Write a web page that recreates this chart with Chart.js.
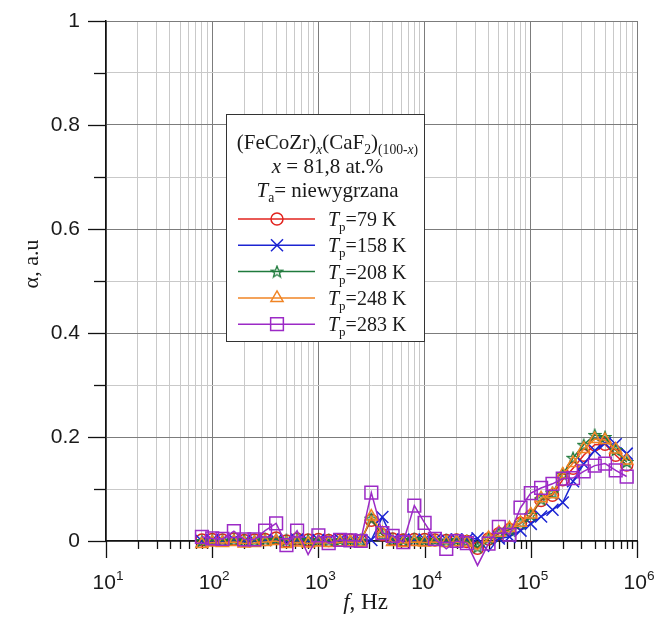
<!DOCTYPE html>
<html>
<head>
<meta charset="utf-8">
<script src="https://cdn.jsdelivr.net/npm/chart.js@4.4.1/dist/chart.umd.min.js"></script>
<style>
  body { margin: 0; background: #fff; }
  #wrap { width: 665px; height: 627px; }
</style>
</head>
<body>
<div id="wrap"><canvas id="alphaChart"></canvas></div>
<script>
// measurement frequencies, Hz
const freqs = [80, 100, 125, 160, 200, 250, 315, 400, 500, 630, 800,
  1000, 1250, 1600, 2000, 2500, 3150, 4000, 5000, 6300, 8000,
  10000, 12500, 16000, 20000, 25000, 31500, 40000, 50000, 63000, 80000,
  100000, 125000, 160000, 200000, 250000, 315000, 400000, 500000, 630000, 800000];

// alpha, a.u. for each measuring temperature Tp
const tp79 = [0.002, 0.003, 0.002, 0.004, 0.001, 0.002, 0.003, 0.006, 0.000, 0.004, 0.002,
  0.003, 0.001, 0.002, 0.002, 0.001, 0.040, 0.012, 0.004, 0.002, 0.003,
  0.003, 0.002, 0.001, 0.002, -0.001, -0.014, 0.004, 0.014, 0.022, 0.034,
  0.048, 0.078, 0.088, 0.118, 0.140, 0.165, 0.185, 0.186, 0.165, 0.146];
const tp158 = [0.000, 0.002, 0.001, 0.003, 0.000, 0.001, 0.002, 0.002, 0.000, 0.003, 0.001,
  0.002, 0.002, 0.003, 0.002, 0.002, 0.002, 0.046, 0.003, 0.003, 0.002,
  0.003, 0.002, 0.003, 0.003, 0.003, 0.005, -0.020, 0.005, 0.008, 0.020,
  0.033, 0.047, 0.060, 0.074, 0.115, 0.148, 0.174, 0.188, 0.186, 0.168];
const tp208 = [0.000, 0.002, 0.001, 0.003, 0.002, 0.001, 0.003, 0.004, 0.001, 0.003, 0.002,
  0.002, 0.001, 0.002, 0.002, 0.001, 0.043, 0.012, 0.003, 0.002, 0.004,
  0.002, 0.002, 0.001, 0.002, 0.000, -0.012, 0.005, 0.015, 0.022, 0.035,
  0.050, 0.080, 0.092, 0.128, 0.160, 0.185, 0.204, 0.200, 0.175, 0.152];
const tp248 = [-0.006, -0.003, -0.004, -0.002, -0.005, -0.004, -0.002, 0.000, -0.006, -0.003, -0.005,
  -0.003, -0.004, -0.003, -0.002, -0.003, 0.047, 0.015, -0.002, -0.004, -0.002,
  -0.003, -0.002, -0.004, -0.002, -0.003, -0.017, 0.006, 0.016, 0.025, 0.035,
  0.051, 0.082, 0.090, 0.128, 0.150, 0.177, 0.196, 0.194, 0.176, 0.155];
const tp283 = [0.008, 0.005, 0.004, 0.019, 0.003, 0.003, 0.020, 0.034, -0.008, 0.020, -0.026,
  0.011, -0.004, 0.002, 0.001, 0.000, 0.093, 0.015, 0.010, -0.002, 0.068,
  0.035, 0.004, -0.015, 0.000, -0.004, -0.047, -0.005, 0.027, 0.012, 0.064,
  0.092, 0.102, 0.110, 0.120, 0.121, 0.134, 0.145, 0.149, 0.136, 0.124];

const seriesLabels = ['=79 K', '=158 K', '=208 K', '=248 K', '=283 K'];
const yLabelValues = [0, 0.2, 0.4, 0.6, 0.8, 1];
const xDecades = [1, 2, 3, 4, 5, 6];

const colors = ['#e2231e', '#1c24d2', '#1f7a3c', '#f08424', '#9c2ac6'];

function starMarker(color, size) {
  const c = document.createElement('canvas');
  c.width = size; c.height = size;
  const g = c.getContext('2d');
  const cx = size / 2, cy = size / 2 + 0.5, ro = size / 2 - 1, ri = ro * 0.42;
  g.beginPath();
  for (let k = 0; k < 10; k++) {
    const r = k % 2 ? ri : ro;
    const a = -Math.PI / 2 + k * Math.PI / 5;
    g.lineTo(cx + r * Math.cos(a), cy + r * Math.sin(a));
  }
  g.closePath();
  g.strokeStyle = color;
  g.lineWidth = 1.3;
  g.stroke();
  return c;
}

const markers = [
  { style: 'circle', radius: 6 },
  { style: 'crossRot', radius: 8.5 },
  { style: starMarker(colors[2], 14), radius: 7 },
  { style: 'triangle', radius: 7 },
  { style: 'rect', radius: 9 }
];

const values = [tp79, tp158, tp208, tp248, tp283];

const datasets = values.map((vals, i) => ({
  label: 'Tp' + seriesLabels[i],
  data: freqs.map((f, k) => ({ x: f, y: vals[k] })),
  borderColor: colors[i],
  backgroundColor: 'transparent',
  borderWidth: 1.5,
  pointStyle: markers[i].style,
  pointRadius: markers[i].radius,
  pointBorderColor: colors[i],
  pointBackgroundColor: 'transparent',
  pointBorderWidth: 1.5,
  tension: 0,
  clip: false,
  order: values.length - i
}));

const SANS = '"Liberation Sans", Arial, sans-serif';
const SERIF = '"Liberation Serif", "Times New Roman", serif';

// text made of plain / italic / subscript / superscript runs
function runWidth(ctx, runs, size) {
  let w = 0;
  runs.forEach(r => {
    const s = (r.sub || r.sup) ? size * 0.65 : size;
    ctx.font = (r.it ? 'italic ' : '') + s + 'px ' + (r.font || SERIF);
    w += ctx.measureText(r.t).width;
  });
  return w;
}
function drawRuns(ctx, runs, x, y, size) {
  runs.forEach(r => {
    const s = (r.sub || r.sup) ? size * 0.65 : size;
    ctx.font = (r.it ? 'italic ' : '') + s + 'px ' + (r.font || SERIF);
    const dy = r.sub ? size * 0.25 : (r.sup ? -size * 0.45 : 0);
    ctx.fillText(r.t, x, y + dy);
    x += ctx.measureText(r.t).width;
  });
}

const decorations = {
  id: 'decorations',
  beforeDatasetsDraw(chart) {
    const { ctx, chartArea: a, scales: { x, y } } = chart;
    ctx.save();
    ctx.strokeStyle = '#111';
    ctx.lineWidth = 1.3;
    // outward tick marks
    x.ticks.forEach(t => {
      const px = Math.round(x.getPixelForValue(t.value)) + 0.5;
      ctx.beginPath();
      ctx.moveTo(px, a.bottom);
      ctx.lineTo(px, a.bottom + (t.major ? 17 : 8));
      ctx.stroke();
    });
    y.ticks.forEach(t => {
      const py = Math.round(y.getPixelForValue(t.value)) + 0.5;
      const major = Math.abs(Math.round(t.value * 10) % 2) === 0;
      ctx.beginPath();
      ctx.moveTo(a.left, py);
      ctx.lineTo(a.left - (major ? 18 : 12), py);
      ctx.stroke();
    });
    // x tick labels as powers of ten
    ctx.fillStyle = '#1a1a1a';
    ctx.textBaseline = 'alphabetic';
    ctx.textAlign = 'left';
    xDecades.forEach(n => {
      const px = x.getPixelForValue(Math.pow(10, n));
      const runs = [{ t: '10', font: SANS }, { t: String(n), sup: true, font: SANS }];
      const w = runWidth(ctx, runs, 21);
      drawRuns(ctx, runs, px - w / 2 + 2, 589, 21);
    });
    // axis titles
    const xt = [{ t: 'f', it: true }, { t: ', Hz' }];
    const xw = runWidth(ctx, xt, 23);
    drawRuns(ctx, xt, (a.left + a.right) / 2 - xw / 2 - 6, 609, 23);
    ctx.save();
    ctx.translate(38, 264);
    ctx.rotate(-Math.PI / 2);
    ctx.textAlign = 'center';
    ctx.font = '22px ' + SERIF;
    ctx.fillText('\u03b1, a.u', 0, 0);
    ctx.restore();
    ctx.restore();
  },
  afterDatasetsDraw(chart) {
    const { ctx } = chart;
    const box = { l: 226.5, t: 114.5, r: 424.5, b: 341.5 };
    ctx.save();
    ctx.fillStyle = '#fff';
    ctx.fillRect(box.l, box.t, box.r - box.l, box.b - box.t);
    ctx.strokeStyle = '#333';
    ctx.lineWidth = 1;
    ctx.strokeRect(box.l, box.t, box.r - box.l, box.b - box.t);
    ctx.fillStyle = '#1a1a1a';
    ctx.textAlign = 'left';
    ctx.textBaseline = 'alphabetic';
    const cx = (box.l + box.r) / 2;
    const head = [
      [{ t: '(FeCoZr)' }, { t: 'x', it: true, sub: true }, { t: '(CaF' }, { t: '2', sub: true },
       { t: ')' }, { t: '(100-', sub: true }, { t: 'x', it: true, sub: true }, { t: ')', sub: true }],
      [{ t: 'x', it: true }, { t: ' = 81,8 at.%' }],
      [{ t: 'T', it: true }, { t: 'a', sub: true }, { t: '= niewygrzana' }]
    ];
    const headY = [149, 173, 197];
    head.forEach((runs, i) => {
      const w = runWidth(ctx, runs, 21);
      drawRuns(ctx, runs, cx - w / 2 + 2, headY[i], 21);
    });
    datasets.forEach((ds, i) => {
      const ly = 219 + i * 26.3;
      ctx.strokeStyle = colors[i];
      ctx.lineWidth = 1.5;
      ctx.beginPath();
      ctx.moveTo(238, ly);
      ctx.lineTo(315, ly);
      ctx.stroke();
      ctx.fillStyle = 'transparent';
      Chart.helpers.drawPoint(ctx, {
        pointStyle: markers[i].style, radius: markers[i].radius, rotation: 0, borderWidth: 1.5
      }, 277, ly);
      ctx.fillStyle = '#1a1a1a';
      drawRuns(ctx, [{ t: 'T', it: true }, { t: 'p', sub: true }, { t: seriesLabels[i] }], 328, ly + 7, 20);
    });
    ctx.restore();
  }
};

new Chart(document.getElementById('alphaChart'), {
  type: 'line',
  data: { datasets: datasets },
  options: {
    responsive: true,
    maintainAspectRatio: false,
    animation: false,
    layout: { padding: { top: 21, right: 28, left: 0, bottom: 0 } },
    plugins: { legend: { display: false }, tooltip: { enabled: false } },
    scales: {
      x: {
        type: 'logarithmic',
        min: 10,
        max: 1e6,
        afterFit: s => { s.height = 86; s.paddingLeft = 0; s.paddingRight = 0; },
        afterBuildTicks: s => {
          const ticks = [];
          for (let n = 1; n < 6; n++) {
            for (let m = 1; m < 10; m++) ticks.push({ value: m * Math.pow(10, n), major: m === 1 });
          }
          ticks.push({ value: 1e6, major: true });
          s.ticks = ticks;
        },
        ticks: { display: false, autoSkip: false },
        grid: {
          drawTicks: false,
          lineWidth: 1,
          color: c => (c.tick && c.tick.major) ? '#7c7c7c' : '#c9c9c9'
        },
        border: { display: true, color: '#111', width: 1.5 }
      },
      y: {
        type: 'linear',
        min: 0,
        max: 1,
        afterFit: s => { s.width = 106; s.paddingTop = 0; s.paddingBottom = 0; },
        ticks: {
          stepSize: 0.1,
          padding: 26,
          color: '#1a1a1a',
          font: { family: SANS, size: 21 },
          callback: v => {
            const r = Math.round(v * 10);
            return r % 2 === 0 ? String(yLabelValues[r / 2]) : '';
          }
        },
        grid: {
          drawTicks: false,
          lineWidth: 1,
          color: c => (c.tick && Math.round(c.tick.value * 10) % 2 === 0) ? '#7c7c7c' : '#c9c9c9'
        },
        border: { display: true, color: '#111', width: 1.5 }
      }
    }
  },
  plugins: [decorations]
});
</script>
</body>
</html>
